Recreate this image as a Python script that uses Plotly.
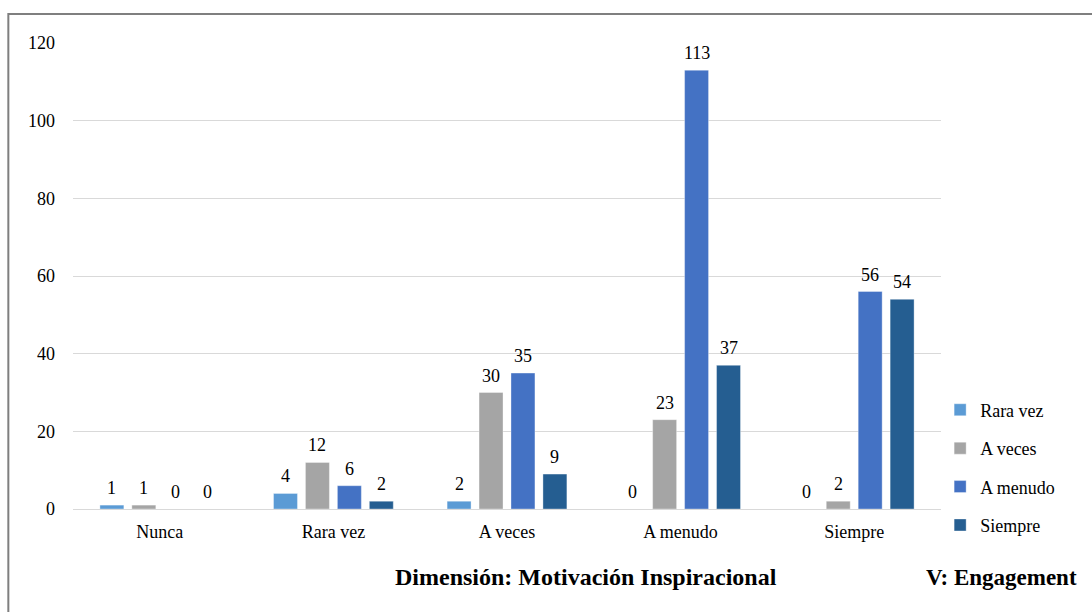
import plotly.graph_objects as go

categories = ["Nunca", "Rara vez", "A veces", "A menudo", "Siempre"]
series_names = ["Rara vez", "A veces", "A menudo", "Siempre"]
rara_vez = [1, 4, 2, 0, 0]
a_veces = [1, 12, 30, 23, 2]
a_menudo = [0, 6, 35, 113, 56]
siempre = [0, 2, 9, 37, 54]
series_values = [rara_vez, a_veces, a_menudo, siempre]
colors = ["#5B9BD5", "#A5A5A5", "#4472C4", "#255E91"]
y_ticks = [0, 20, 40, 60, 80, 100, 120]

serif = "Liberation Serif"

BARGAP = 0.264
GROUPGAP = 0.25
n_series = len(series_names)
slot = (1 - BARGAP) / n_series

fig = go.Figure()
annotations = []
for i, (name, vals, col) in enumerate(zip(series_names, series_values, colors)):
    fig.add_trace(go.Bar(
        name=name,
        x=categories,
        y=vals,
        marker=dict(color=col, line=dict(color="rgba(255,255,255,0.35)", width=1)),
        legendgroup=name,
    ))
    # value labels placed above each bar of the group
    offset = (i - (n_series - 1) / 2) * slot
    for j, v in enumerate(vals):
        annotations.append(dict(
            text=str(v), x=j + offset, y=v, xref="x", yref="y",
            xanchor="center", yanchor="bottom", yshift=5, showarrow=False,
            font=dict(family=serif, size=18, color="#000000"),
        ))

annotations += [
    dict(text="<b>Dimensión: Motivación Inspiracional</b>", xref="paper", yref="paper",
         x=0.591, y=-0.146, xanchor="center", yanchor="middle", showarrow=False,
         font=dict(family=serif, size=24, color="#000000")),
    dict(text="<b>V: Engagement</b>", xref="paper", yref="paper",
         x=1.159, y=-0.146, xanchor="right", yanchor="middle", showarrow=False,
         font=dict(family=serif, size=23, color="#000000")),
]

fig.update_layout(
    width=1092,
    height=612,
    paper_bgcolor="#FFFFFF",
    plot_bgcolor="#FFFFFF",
    margin=dict(l=73, r=151, t=43, b=103),
    barmode="group",
    bargap=BARGAP,
    bargroupgap=GROUPGAP,
    font=dict(family=serif, size=16, color="#000000"),
    showlegend=True,
    legend=dict(
        x=0.999, y=0.252, xanchor="left", yanchor="top",
        font=dict(family=serif, size=18, color="#000000"),
        tracegroupgap=12,
        itemwidth=30,
        bgcolor="rgba(0,0,0,0)",
    ),
    xaxis=dict(
        showgrid=False,
        showline=True,
        linecolor="#D9D9D9",
        linewidth=1,
        ticks="",
        tickfont=dict(family=serif, size=18, color="#000000"),
        ticklabelstandoff=6,
    ),
    yaxis=dict(
        range=[0, 120],
        tickvals=y_ticks,
        showgrid=True,
        gridcolor="#D9D9D9",
        gridwidth=1,
        zeroline=False,
        showline=False,
        ticks="",
        tickfont=dict(family=serif, size=18, color="#000000"),
        ticklabelstandoff=17,
    ),
    annotations=annotations,
    shapes=[
        dict(type="rect", xref="paper", yref="paper",
             x0=-0.0745, y0=-0.4, x1=1.3, y1=1.0622,
             line=dict(color="#7F7F7F", width=2), fillcolor="rgba(0,0,0,0)", layer="below"),
    ],
)

fig.write_html("out.html")
